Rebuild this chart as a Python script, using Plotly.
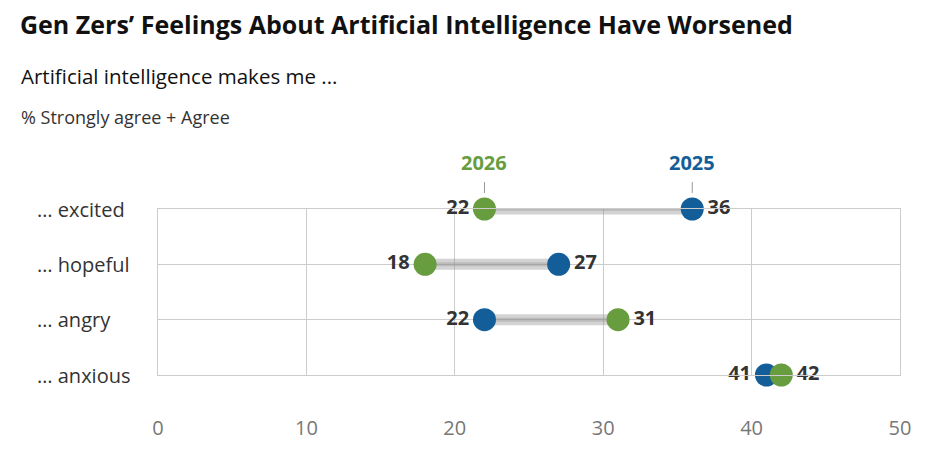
import plotly.graph_objects as go

categories = ["… excited", "… hopeful", "… angry", "… anxious"]
values_2026 = [22, 18, 31, 42]
values_2025 = [36, 27, 22, 41]
x_ticks = [0, 10, 20, 30, 40, 50]

GREEN = "#689d3f"
BLUE = "#135e99"
FONT = "Open Sans"

W, H = 934, 458
ML, MR, MT, MB = 158, 34, 209, 83
pw = W - ML - MR
ph = H - MT - MB


def px_x(px):
    return (px - ML) / pw


def px_y(py):
    return (H - MB - py) / ph


rows = list(range(len(categories)))

fig = go.Figure()

# connectors
for i in rows:
    xs = [values_2026[i], values_2025[i]]
    fig.add_trace(go.Scatter(x=xs, y=[i, i], mode="lines",
                             line=dict(color="rgba(150,150,150,0.42)", width=11),
                             hoverinfo="skip", showlegend=False))
    fig.add_trace(go.Scatter(x=xs, y=[i, i], mode="lines",
                             line=dict(color="rgba(130,130,130,0.28)", width=4),
                             hoverinfo="skip", showlegend=False))

pos26 = ["middle left" if a < b else "middle right" for a, b in zip(values_2026, values_2025)]
pos25 = ["middle right" if b > a else "middle left" for a, b in zip(values_2026, values_2025)]

label_font = dict(family=FONT, size=20, color="#333333", weight="bold")
fig.add_trace(go.Scatter(x=values_2025, y=rows, mode="markers+text",
                         marker=dict(color=BLUE, size=23),
                         text=[str(v) for v in values_2025], textposition=pos25,
                         textfont=label_font,
                         name="2025", showlegend=False, cliponaxis=False))
fig.add_trace(go.Scatter(x=values_2026, y=rows, mode="markers+text",
                         marker=dict(color=GREEN, size=23),
                         text=[str(v) for v in values_2026], textposition=pos26,
                         textfont=label_font,
                         name="2026", showlegend=False, cliponaxis=False))

# series labels above first row
for label, val, col in [("2026", values_2026[0], GREEN), ("2025", values_2025[0], BLUE)]:
    fig.add_annotation(x=val, y=0, xref="x", yref="y", text=f"<b>{label}</b>",
                       showarrow=True, arrowhead=0, arrowwidth=1, arrowcolor="#999999",
                       ax=0, ay=-47, standoff=16, startstandoff=5,
                       font=dict(family=FONT, size=20, color=col))

# category labels (left aligned)
for i, c in enumerate(categories):
    fig.add_annotation(x=px_x(35), xref="paper", xanchor="left", y=i, yref="y",
                       text=c, showarrow=False,
                       font=dict(family=FONT, size=20, color="#333333"))

fig.add_annotation(text="Artificial intelligence makes me ...", xref="paper", yref="paper",
                   x=px_x(19), y=px_y(76), xanchor="left", yanchor="middle", showarrow=False,
                   font=dict(family=FONT, size=20.5, color="#111111"))
fig.add_annotation(text="% Strongly agree + Agree", xref="paper", yref="paper",
                   x=px_x(19), y=px_y(117), xanchor="left", yanchor="middle", showarrow=False,
                   font=dict(family=FONT, size=18, color="#333333"))

fig.update_layout(
    width=W, height=H,
    margin=dict(l=ML, r=MR, t=MT, b=MB),
    plot_bgcolor="white", paper_bgcolor="white",
    font=dict(family=FONT),
    title=dict(text="<b>Gen Zers’ Feelings About Artificial Intelligence Have Worsened</b>",
               x=20 / W, xanchor="left", xref="container", y=1 - 25 / H, yanchor="middle",
               yref="container",
               font=dict(family=FONT, size=25, color="#111111")),
)

fig.update_xaxes(range=[0, 50], tickvals=x_ticks, showgrid=True, gridcolor="#cccccc",
                 gridwidth=1, showline=True, linecolor="#cccccc", mirror=True,
                 zeroline=False, ticks="", ticklabelstandoff=35,
                 tickfont=dict(family=FONT, size=20, color="#777777"))
fig.update_yaxes(range=[3, 0], tickvals=rows, showticklabels=False, showgrid=True,
                 gridcolor="#cccccc", gridwidth=1, showline=True, linecolor="#cccccc",
                 mirror=True, zeroline=False, ticks="")

fig.write_html("out.html", config={"displayModeBar": False},
               post_script="document.body.style.margin='0';")
